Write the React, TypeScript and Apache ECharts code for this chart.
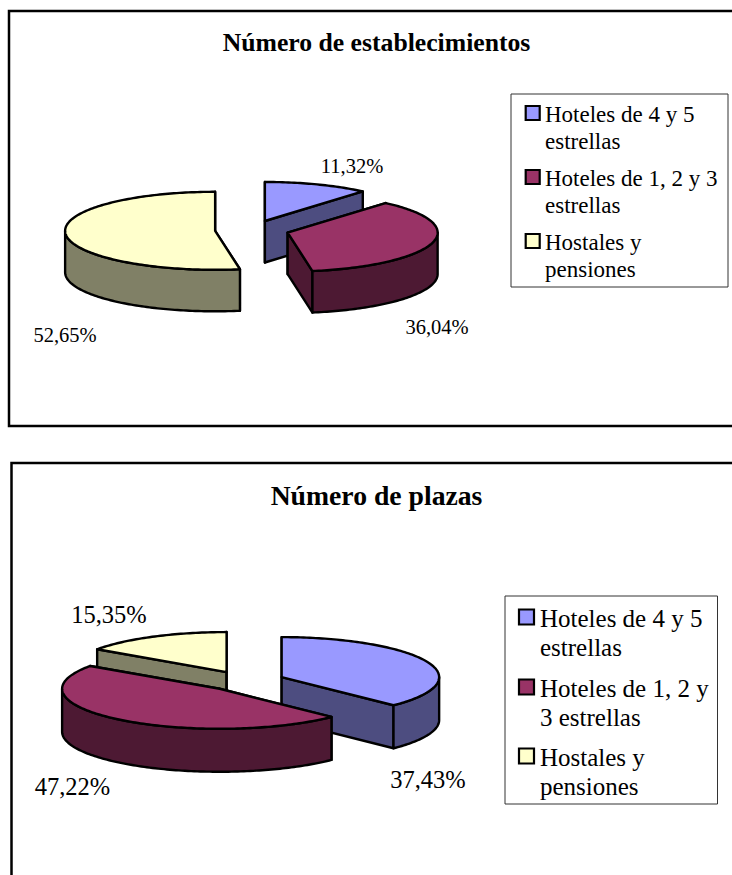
import React, { useEffect, useRef } from "react";
import * as echarts from "echarts";

const categories = ["Hoteles de 4 y 5 estrellas", "Hoteles de 1, 2 y 3 estrellas", "Hostales y pensiones"];
const establecimientos = [11.32, 36.04, 52.65];
const plazas = [37.43, 47.22, 15.35];
const establecimientosLabels = ["11,32%", "36,04%", "52,65%"];
const plazasLabels = ["37,43%", "47,22%", "15,35%"];
const legendLines1 = [["Hoteles de 4 y 5", "estrellas"], ["Hoteles de 1, 2 y 3", "estrellas"], ["Hostales y", "pensiones"]];
const legendLines2 = [["Hoteles de 4 y 5", "estrellas"], ["Hoteles de 1, 2 y", "3 estrellas"], ["Hostales y", "pensiones"]];
const topColors = ["#9999FF", "#993366", "#FFFFCC"];
const wallColors = ["#4D4D80", "#4D1933", "#808066"];
const FONT = "'Liberation Serif', 'Times New Roman', serif";

type Pie = {
  values: number[]; labels: string[]; order: number[];
  cx: number; cy: number; rx: number; ry: number; depth: number; explode: number;
  labelPos: number[][]; labelSize: number;
};

const pie1: Pie = {
  values: establecimientos, labels: establecimientosLabels, order: [0, 2, 1],
  cx: 252, cy: 230, rx: 150, ry: 39, depth: 41.5, explode: 37,
  labelPos: [[352, 166], [437, 327], [65, 335]], labelSize: 20.5,
};
const pie2: Pie = {
  values: plazas, labels: plazasLabels, order: [2, 0, 1],
  cx: 245, cy: 681, rx: 157.5, ry: 40, depth: 43, explode: 39.7,
  labelPos: [[428, 779], [72.5, 786], [109, 614]], labelSize: 24.5,
};

function slices(p: Pie) {
  const total = p.values.reduce((a, b) => a + b, 0);
  let acc = 0;
  return p.values.map((v) => {
    const a0 = (acc / total) * Math.PI * 2;
    acc += v;
    const a1 = (acc / total) * Math.PI * 2;
    return { a0, a1 };
  });
}

function renderSlice(p: Pie, idx: number) {
  const { a0, a1 } = slices(p)[idx];
  const mid = (a0 + a1) / 2;
  const k = p.ry / p.rx;
  const ax = p.cx + Math.sin(mid) * p.explode;
  const ay = p.cy - Math.cos(mid) * p.explode * k;
  const pt = (a: number, dy = 0) => [ax + Math.sin(a) * p.rx, ay - Math.cos(a) * p.ry + dy];
  const arc = (s: number, e: number, dy = 0) => {
    const n = Math.max(2, Math.ceil(Math.abs(e - s) / 0.02));
    const out: number[][] = [];
    for (let i = 0; i <= n; i++) out.push(pt(s + ((e - s) * i) / n, dy));
    return out;
  };
  const sharedWall = { fill: wallColors[idx], stroke: "#000", lineWidth: 2.4, lineJoin: "round" };
  const children: any[] = [];
  for (const a of [a0, a1]) {
    children.push({
      type: "polygon",
      shape: { points: [[ax, ay], pt(a), pt(a, p.depth), [ax, ay + p.depth]] },
      style: sharedWall,
    });
  }
  const s = Math.max(a0, Math.PI / 2);
  const e = Math.min(a1, (Math.PI * 3) / 2);
  if (s < e) {
    children.push({
      type: "polygon",
      shape: { points: [...arc(s, e), ...arc(e, s, p.depth)] },
      style: sharedWall,
    });
  }
  children.push({
    type: "polygon",
    shape: { points: [[ax, ay], ...arc(a0, a1)] },
    style: { fill: topColors[idx], stroke: "#000", lineWidth: 2.4, lineJoin: "round" },
  });
  return { type: "group", children };
}

function pieSeries(p: Pie, chartName: string) {
  return p.order.map((idx) => ({
    type: "custom",
    name: chartName + " - " + categories[idx],
    coordinateSystem: "none",
    silent: true,
    data: [[p.values[idx]]],
    renderItem: () => renderSlice(p, idx),
    clip: false,
  }));
}

function pieLabels(p: Pie) {
  return p.labels.map((t, i) => ({
    type: "text", x: p.labelPos[i][0], y: p.labelPos[i][1], silent: true,
    style: { text: t, font: `${p.labelSize}px ${FONT}`, fill: "#000", align: "center", verticalAlign: "middle" },
  }));
}

type Leg = {
  box: number[]; swatchX: number; swatchSize: number; textX: number; size: number;
  lines: string[][]; lineY: number[][];
};
const legend1: Leg = {
  box: [511, 94, 217, 193], swatchX: 525.7, swatchSize: 14, textX: 545, size: 23, lines: legendLines1,
  lineY: [[114, 141], [178, 205], [242, 269]],
};
const legend2: Leg = {
  box: [505, 596, 212.5, 208], swatchX: 519, swatchSize: 15, textX: 540, size: 25, lines: legendLines2,
  lineY: [[618, 647], [688, 717], [757, 786]],
};

function legendGraphics(l: Leg) {
  const out: any[] = [{
    type: "rect", silent: true,
    shape: { x: l.box[0], y: l.box[1], width: l.box[2], height: l.box[3] },
    style: { fill: "#fff", stroke: "#333", lineWidth: 1 },
  }];
  l.lines.forEach((pair, i) => {
    out.push({
      type: "rect", silent: true,
      shape: { x: l.swatchX, y: l.lineY[i][0] - 1 - l.swatchSize / 2, width: l.swatchSize, height: l.swatchSize },
      style: { fill: topColors[i], stroke: "#000", lineWidth: 2.2 },
    });
    pair.forEach((t, j) => out.push({
      type: "text", silent: true, x: l.textX, y: l.lineY[i][j],
      style: { text: t, font: `${l.size}px ${FONT}`, fill: "#000", align: "left", verticalAlign: "middle" },
    }));
  });
  return out;
}

export default function App() {
  const ref = useRef<HTMLDivElement>(null);
  useEffect(() => {
    const chart = echarts.init(ref.current!, null, { renderer: "svg" });
    chart.setOption({
      animation: false,
      backgroundColor: "#fff",
      title: [
        { text: "Número de establecimientos", left: 376.5, top: 42, padding: 0, textAlign: "center", textVerticalAlign: "middle",
          textStyle: { fontFamily: FONT, fontSize: 25.7, fontWeight: "bold", color: "#000" } },
        { text: "Número de plazas", left: 376.5, top: 495, padding: 0, textAlign: "center", textVerticalAlign: "middle",
          textStyle: { fontFamily: FONT, fontSize: 27.7, fontWeight: "bold", color: "#000" } },
      ],
      series: [...pieSeries(pie1, "Número de establecimientos"), ...pieSeries(pie2, "Número de plazas")],
      graphic: [
        { type: "rect", silent: true, shape: { x: 9, y: 11, width: 760, height: 415 },
          style: { fill: "none", stroke: "#000", lineWidth: 2.5 }, z: -1 },
        { type: "rect", silent: true, shape: { x: 11.5, y: 463, width: 760, height: 460 },
          style: { fill: "none", stroke: "#000", lineWidth: 2.5 }, z: -1 },
        ...legendGraphics(legend1),
        ...legendGraphics(legend2),
        ...pieLabels(pie1),
        ...pieLabels(pie2),
      ],
    });
    return () => chart.dispose();
  }, []);
  return <div ref={ref} style={{ position: "absolute", left: 0, top: 0, width: 732, height: 875 }} />;
}
